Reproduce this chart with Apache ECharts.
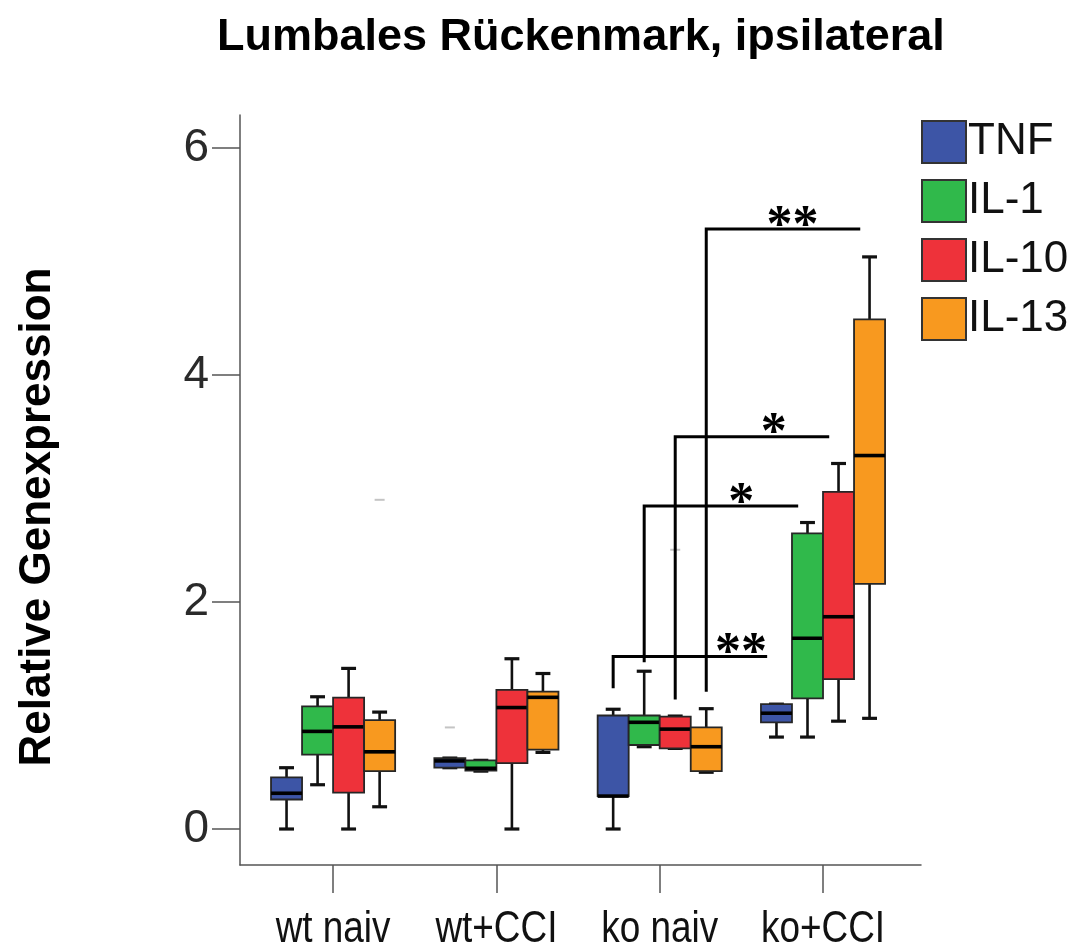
<!DOCTYPE html>
<html>
<head>
<meta charset="utf-8">
<script src="https://cdn.jsdelivr.net/npm/echarts@6/dist/echarts.min.js"></script>
<style>
  html, body { margin: 0; padding: 0; background: #fff; }
  #chart { width: 1078px; height: 950px; }
</style>
</head>
<body>
<div id="chart"></div>
<script>
// Groups on the x axis and the four genes drawn in each group
const groups = ['wt naiv', 'wt+CCI', 'ko naiv', 'ko+CCI'];
const genes = ['TNF', 'IL-1', 'IL-10', 'IL-13'];
const geneColors = ['#3d55a6', '#30b94b', '#ee323a', '#f8991f'];

// Box statistics per group: [min, Q1, median, Q3, max]
const tnf = [
  [0.00, 0.26, 0.315, 0.455, 0.54],
  [0.54, 0.54, 0.60, 0.625, 0.625],
  [0.00, 0.29, 0.29, 1.00, 1.055],
  [0.81, 0.94, 1.02, 1.10, 1.10]
];
const il1 = [
  [0.39, 0.655, 0.86, 1.08, 1.165],
  [0.51, 0.515, 0.535, 0.605, 0.605],
  [0.725, 0.74, 0.94, 1.00, 1.39],
  [0.81, 1.15, 1.68, 2.605, 2.70]
];
const il10 = [
  [0.00, 0.32, 0.90, 1.157, 1.415],
  [0.00, 0.58, 1.07, 1.225, 1.50],
  [0.71, 0.71, 0.88, 0.99, 0.995],
  [0.95, 1.32, 1.87, 2.97, 3.22]
];
const il13 = [
  [0.196, 0.51, 0.68, 0.96, 1.03],
  [0.675, 0.70, 1.16, 1.21, 1.37],
  [0.50, 0.51, 0.725, 0.895, 1.06],
  [0.975, 2.16, 3.29, 4.49, 5.04]
];
const boxStats = [tnf, il1, il10, il13];

// Faint outlier marks: [group index, gene index, value]
const outliers = [
  [0, 3, 2.90],
  [1, 0, 0.895],
  [2, 2, 2.46]
];

// Significance brackets: ko naiv vs ko+CCI for each gene
const sigFrom = 2;               // ko naiv
const sigTo = 3;                 // ko+CCI
const sigGenes = [0, 1, 2, 3];
const sigHeights = [1.52, 2.845, 3.455, 5.285];
const sigLegEnds = [1.24, 1.47, 1.14, 1.21];
const sigMarks = ['**', '*', '*', '**'];

const yTicks = [0, 2, 4, 6];
const xTicks = [0, 1, 2, 3];

// layout constants (x-axis units per box, etc.)
const BOX_W = 0.19;
const STAR_AT = [0.83, 0.63, 0.64, 0.56];
const FONT = '"Liberation Sans", Arial, Helvetica, sans-serif';
const X_MIN = -0.57, X_MAX = 3.6, Y_MIN = -0.317, Y_MAX = 6.29;

function boxCenter(group, gene) {
  return group + (gene - 1.5) * BOX_W;
}

function boxRender(gene) {
  return function (params, api) {
    const g = api.value(0);
    const xc = boxCenter(g, gene);
    const left = api.coord([xc - BOX_W / 2, 0])[0];
    const right = api.coord([xc + BOX_W / 2, 0])[0];
    const cx = (left + right) / 2;
    const y = (v) => api.coord([xc, v])[1];
    const yMin = y(api.value(1)), yQ1 = y(api.value(2)), yMed = y(api.value(3)),
          yQ3 = y(api.value(4)), yMax = y(api.value(5));
    const capHalf = (right - left) * 0.24;
    const lineStyle = { stroke: '#111', lineWidth: 2.6 };
    return {
      type: 'group',
      children: [
        { type: 'line', shape: { x1: cx, y1: yQ3, x2: cx, y2: yMax }, style: lineStyle },
        { type: 'line', shape: { x1: cx, y1: yQ1, x2: cx, y2: yMin }, style: lineStyle },
        { type: 'line', shape: { x1: cx - capHalf, y1: yMax, x2: cx + capHalf, y2: yMax }, style: { stroke: '#111', lineWidth: 3.2 } },
        { type: 'line', shape: { x1: cx - capHalf, y1: yMin, x2: cx + capHalf, y2: yMin }, style: { stroke: '#111', lineWidth: 3.2 } },
        { type: 'rect', shape: { x: left, y: yQ3, width: right - left, height: yQ1 - yQ3 },
          style: { fill: geneColors[gene], stroke: '#262626', lineWidth: 1.8 } },
        { type: 'line', shape: { x1: left, y1: yMed, x2: right, y2: yMed }, style: { stroke: '#000', lineWidth: 3.6 } }
      ]
    };
  };
}

const boxSeries = genes.map((name, gi) => ({
  name: name,
  type: 'custom',
  renderItem: boxRender(gi),
  itemStyle: { color: geneColors[gi] },
  encode: { x: 0, y: [1, 2, 3, 4, 5] },
  data: boxStats[gi].map((s, g) => [g].concat(s)),
  z: 3
}));

const outlierSeries = {
  type: 'custom',
  silent: true,
  renderItem: function (params, api) {
    const xc = boxCenter(api.value(0), api.value(1));
    const p = api.coord([xc, api.value(2)]);
    return { type: 'rect', shape: { x: p[0] - 5, y: p[1] - 1, width: 10, height: 2 },
             style: { fill: '#c4c4c4' } };
  },
  encode: { x: 0, y: 2 },
  data: outliers,
  z: 2
};

const bracketSeries = {
  type: 'custom',
  silent: true,
  renderItem: function (params, api) {
    const i = params.dataIndex;
    const gene = api.value(0);
    const x0 = api.coord([boxCenter(sigFrom, gene), 0])[0];
    const x1 = api.coord([boxCenter(sigTo, gene) - 0.3 * BOX_W, 0])[0];
    const yTop = api.coord([0, api.value(1)])[1];
    const yLeg = api.coord([0, api.value(2)])[1];
    const sx = x0 + STAR_AT[i] * (x1 - x0);
    return {
      type: 'group',
      children: [
        { type: 'polyline', shape: { points: [[x0, yLeg], [x0, yTop], [x1, yTop]] },
          style: { stroke: '#000', lineWidth: 3, fill: null } },
        { type: 'text', x: sx, y: yTop - 2,
          style: { text: sigMarks[i], fill: '#000', align: 'center', verticalAlign: 'middle',
                   font: 'bold 52px "Liberation Serif", "Times New Roman", serif' } }
      ]
    };
  },
  encode: { y: [1, 2] },
  data: sigGenes.map((g, i) => [g, sigHeights[i], sigLegEnds[i]]),
  z: 4
};

const chart = echarts.init(document.getElementById('chart'), null, { renderer: 'canvas' });
chart.setOption({
  backgroundColor: '#fff',
  animation: false,
  title: {
    text: 'Lumbales Rückenmark, ipsilateral',
    left: 212, top: 10,
    textStyle: { fontFamily: FONT, fontSize: 45, fontWeight: 'bold', color: '#000' }
  },
  legend: {
    orient: 'vertical',
    left: 921, top: 120, padding: 0,
    itemWidth: 44, itemHeight: 42, itemGap: 15,
    selectedMode: false,
    textStyle: { fontFamily: FONT, fontSize: 44, color: '#111', padding: [0, 0, 0, -3] },
    data: genes.map((g, i) => ({
      name: g, icon: 'rect',
      itemStyle: { color: geneColors[i], borderColor: '#333', borderWidth: 2 }
    }))
  },
  grid: { left: 240, top: 115, right: 157, bottom: 85 },
  xAxis: {
    type: 'value', min: X_MIN, max: X_MAX,
    splitLine: { show: false },
    axisLine: { show: true, onZero: false, lineStyle: { color: '#555', width: 1.5 } },
    axisTick: { show: true, length: 28, customValues: xTicks, lineStyle: { color: '#555', width: 1.5 } },
    axisLabel: { show: false }
  },
  yAxis: {
    type: 'value', min: Y_MIN, max: Y_MAX,
    splitLine: { show: false },
    axisLine: { show: true, onZero: false, lineStyle: { color: '#555', width: 1.5 } },
    axisTick: { show: true, length: 28, customValues: yTicks, lineStyle: { color: '#555', width: 1.5 } },
    axisLabel: { customValues: yTicks, margin: 31, fontFamily: FONT, fontSize: 46, color: '#2a2a2a' },
    name: 'Relative Genexpression',
    nameLocation: 'middle', nameRotate: 90, nameGap: 180,
    nameTextStyle: { fontFamily: FONT, fontSize: 44, fontWeight: 'bold', color: '#000', padding: [0, 54, 0, 0] }
  },
  series: boxSeries.concat([outlierSeries, bracketSeries])
});

// Category names under the x ticks, set in a condensed face
const groupLabels = groups.map((name, i) => {
  const p = chart.convertToPixel({ xAxisIndex: 0, yAxisIndex: 0 }, [xTicks[i], Y_MIN]);
  return {
    type: 'text', x: p[0], y: p[1] + 42, scaleX: 0.82,
    style: { text: name, fill: '#111', font: '45px ' + FONT, align: 'center', verticalAlign: 'top' }
  };
});
chart.setOption({ graphic: groupLabels });
</script>
</body>
</html>
